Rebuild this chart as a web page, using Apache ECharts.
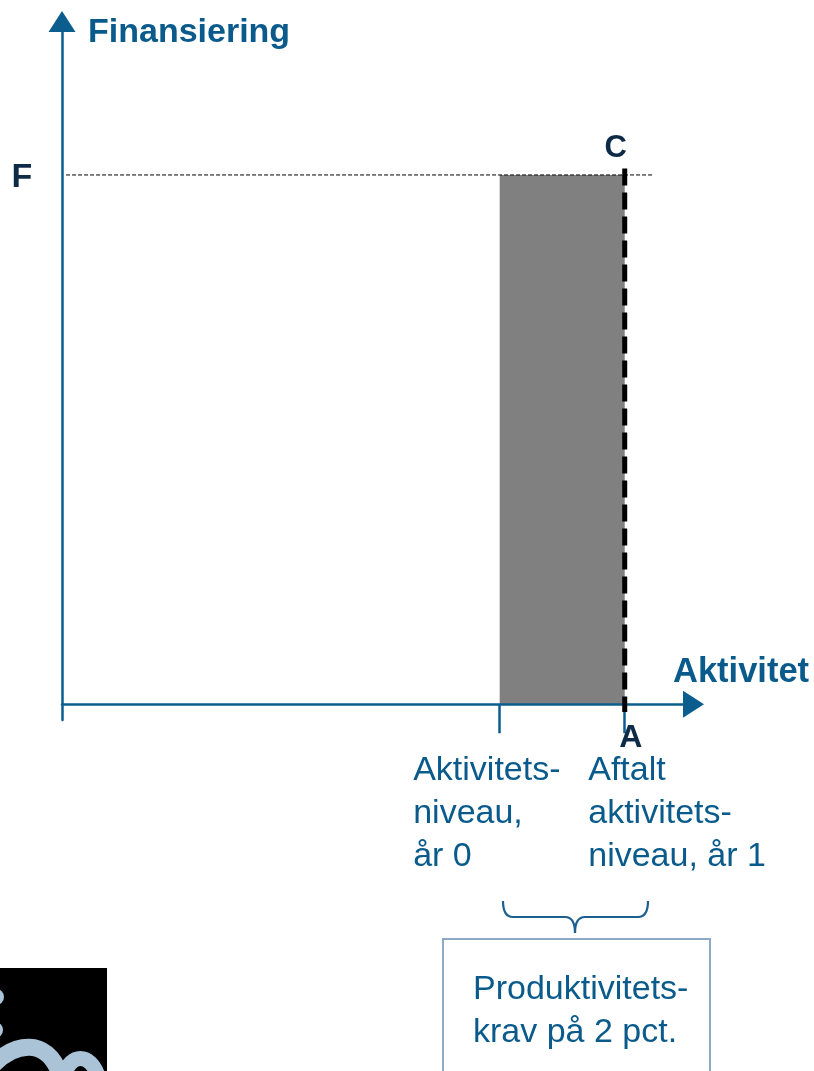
<!DOCTYPE html>
<html>
<head>
<meta charset="utf-8">
<title>Finansiering og aktivitet</title>
<script src="https://cdn.jsdelivr.net/npm/echarts@6/dist/echarts.min.js"></script>
<style>
  html, body { margin: 0; padding: 0; background: #ffffff; }
  #chart { width: 814px; height: 1071px; }
</style>
</head>
<body>
<div id="chart"></div>
<script>
// Activity levels on the x axis: år 0 and the agreed level for år 1
const activityYear0 = 70;
const activityYear1 = 90;
// Financing level F on the y axis
const financingF = 100;
// Axis ranges
const xRange = [0, 101];
const yRange = [-3, 129];
// Texts
const yAxisTitle = 'Finansiering';
const xAxisTitle = 'Aktivitet';
const pointLabels = ['F', 'C', 'A'];
const year0Label = ['Aktivitets-', 'niveau,', 'år 0'];
const year1Label = ['Aftalt', 'aktivitets-', 'niveau, år 1'];
const boxLabel = ['Produktivitets-', 'krav på 2 pct.'];

const BLUE = '#0a5b8c';
const AXIS = '#0b5d8e';
const DARK = '#0d2a47';
const LOGO = '#aac3d6';
const FONT = '"Liberation Sans", Arial, sans-serif';

const chart = echarts.init(document.getElementById('chart'), null, { renderer: 'canvas' });

const axisLineStyle = {
  show: true,
  onZero: true,
  symbol: ['none', 'triangle'],
  symbolSize: [27, 21],
  lineStyle: { color: AXIS, width: 2.5 }
};

const option = {
  animation: false,
  backgroundColor: '#ffffff',
  grid: { left: 62, right: 120.5, top: 21.5, bottom: 351, containLabel: false },
  xAxis: {
    type: 'value',
    min: xRange[0],
    max: xRange[1],
    z: 4,
    axisLine: axisLineStyle,
    axisTick: {
      show: true,
      customValues: [activityYear0, activityYear1],
      length: 29,
      inside: false,
      lineStyle: { color: AXIS, width: 2.5 }
    },
    axisLabel: { show: false },
    splitLine: { show: false }
  },
  yAxis: {
    type: 'value',
    min: yRange[0],
    max: yRange[1],
    z: 4,
    axisLine: axisLineStyle,
    axisTick: { show: false },
    axisLabel: { show: false },
    splitLine: { show: false }
  },
  series: [
    {
      // Shaded area between the two activity levels up to F
      type: 'custom',
      z: 1,
      silent: true,
      data: [[activityYear0, activityYear1, 0, financingF]],
      renderItem: function (params, api) {
        const p0 = api.coord([api.value(0), api.value(3)]);
        const p1 = api.coord([api.value(1), api.value(2)]);
        return {
          type: 'rect',
          shape: { x: p0[0], y: p0[1], width: p1[0] - p0[0], height: p1[1] - p0[1] },
          style: { fill: '#808080' }
        };
      }
    },
    {
      // Thin dashed guide at the financing level F
      type: 'line',
      z: 6,
      silent: true,
      symbol: 'none',
      data: [[0.65, financingF], [94.4, financingF]],
      lineStyle: { color: '#000000', width: 1, type: [4, 2] }
    },
    {
      // Thick dashed line at the agreed activity level (A to C)
      type: 'line',
      z: 7,
      silent: true,
      symbol: 'none',
      data: [[activityYear1, financingF + 1.2], [activityYear1, -1.5]],
      lineStyle: { color: '#000000', width: 5, type: [17, 7] }
    }
  ]
};

chart.setOption(option);

function txt(x, y, text, opts) {
  return {
    type: 'text',
    x: x,
    y: y,
    z: 20,
    silent: true,
    style: Object.assign({
      text: text,
      font: '34px ' + FONT,
      fill: BLUE,
      align: 'left',
      verticalAlign: 'middle'
    }, opts || {})
  };
}

function curve(x1, y1, x2, y2, cx, cy, stroke, width) {
  return {
    type: 'bezierCurve',
    z: 20,
    silent: true,
    shape: { x1: x1, y1: y1, x2: x2, y2: y2, cpx1: cx, cpy1: cy },
    style: { stroke: stroke, lineWidth: width, fill: 'none' }
  };
}

function cubic(x1, y1, c1x, c1y, c2x, c2y, x2, y2, stroke, width) {
  return {
    type: 'bezierCurve',
    z: 21,
    silent: true,
    shape: { x1: x1, y1: y1, x2: x2, y2: y2, cpx1: c1x, cpy1: c1y, cpx2: c2x, cpy2: c2y },
    style: { stroke: stroke, lineWidth: width, fill: 'none' }
  };
}

function seg(x1, y1, x2, y2, stroke, width) {
  return {
    type: 'line',
    z: 20,
    silent: true,
    shape: { x1: x1, y1: y1, x2: x2, y2: y2 },
    style: { stroke: stroke, lineWidth: width }
  };
}

function drawAnnotations() {
  const pF = chart.convertToPixel({ gridIndex: 0 }, [0, financingF]);
  const pC = chart.convertToPixel({ gridIndex: 0 }, [activityYear1, financingF]);
  const pA = chart.convertToPixel({ gridIndex: 0 }, [activityYear1, 0]);
  const p0 = chart.convertToPixel({ gridIndex: 0 }, [activityYear0, 0]);

  const braceColor = '#1d5f8f';
  const bw = 2.2;

  const elements = [
    txt(88, 33, yAxisTitle, { font: 'bold 34px ' + FONT }),
    txt(673, 672, xAxisTitle, { font: 'bold 34.5px ' + FONT }),
    txt(pF[0] - 40, pF[1] + 3, pointLabels[0], { font: 'bold 34px ' + FONT, fill: DARK, align: 'center' }),
    txt(pC[0] - 9, pC[1] - 27, pointLabels[1], { font: 'bold 31px ' + FONT, fill: DARK, align: 'center' }),
    txt(pA[0] + 6, pA[1] + 34, pointLabels[2], { font: 'bold 32px ' + FONT, fill: DARK, align: 'center' }),
    txt(p0[0] - 86.5, 749.5, year0Label.join('\n'), { verticalAlign: 'top', lineHeight: 43 }),
    txt(pA[0] - 36.5, 749.5, year1Label.join('\n'), { verticalAlign: 'top', lineHeight: 43 }),
    txt(473, 968.5, boxLabel.join('\n'), { verticalAlign: 'top', lineHeight: 43 }),
    // Curly brace spanning the productivity requirement
    curve(503, 901, 513, 917, 503, 917, braceColor, bw),
    seg(512, 917, 566, 917, braceColor, bw),
    curve(565, 917, 575, 933, 575, 917, braceColor, bw),
    curve(575, 933, 585, 917, 575, 917, braceColor, bw),
    seg(584, 917, 639, 917, braceColor, bw),
    curve(638, 917, 648, 901, 648, 917, braceColor, bw),
    {
      type: 'rect',
      z: 20,
      silent: true,
      shape: { x: 443, y: 939, width: 267, height: 150 },
      style: { stroke: '#8eabc6', lineWidth: 2, fill: 'none' }
    },
    // Corner logo
    {
      type: 'rect',
      z: 20,
      silent: true,
      shape: { x: 0, y: 968, width: 107, height: 110 },
      style: { fill: '#000000' }
    },
    { type: 'circle', z: 21, silent: true, shape: { cx: -4, cy: 997, r: 8 }, style: { fill: LOGO } },
    { type: 'circle', z: 21, silent: true, shape: { cx: -5, cy: 1030, r: 8 }, style: { fill: LOGO } },
    cubic(-6, 1064, 14, 1044, 46, 1036, 60, 1074, LOGO, 17),
    cubic(65, 1074, 70, 1054, 90, 1052, 98, 1076, LOGO, 15)
  ];
  chart.setOption({ graphic: elements });
}

drawAnnotations();
</script>
</body>
</html>
